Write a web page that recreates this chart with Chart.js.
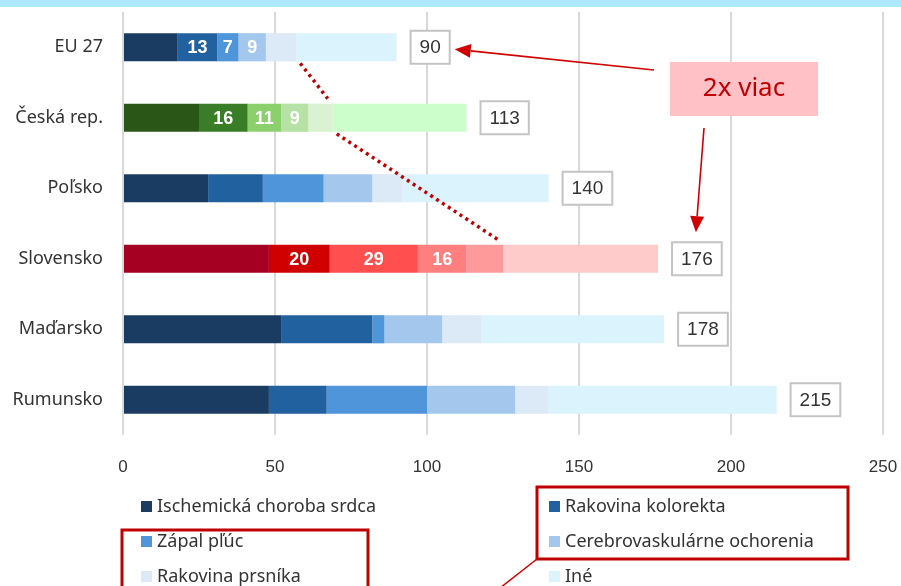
<!DOCTYPE html>
<html>
<head>
<meta charset="utf-8">
<style>
  html, body { margin: 0; padding: 0; background: #fff; }
  #wrap { width: 901px; height: 586px; position: relative; }
</style>
<script src="https://cdn.jsdelivr.net/npm/chart.js@4.4.1/dist/chart.umd.min.js"></script>
</head>
<body>
<div id="wrap"><canvas id="chart" width="901" height="586"></canvas></div>
<script>
// data
const categories = ['EU 27', 'Česká rep.', 'Poľsko', 'Slovensko', 'Maďarsko', 'Rumunsko'];
const seriesNames = ['Ischemická choroba srdca', 'Rakovina kolorekta', 'Zápal pľúc',
                     'Cerebrovaskulárne ochorenia', 'Rakovina prsníka', 'Iné'];
const ischemicka = [18, 25, 28, 48, 52, 48];
const kolorekta  = [13, 16, 18, 20, 30, 19];
const zapal      = [7, 11, 20, 29, 4, 33];
const cerebro    = [9, 9, 16, 16, 19, 29];
const prsnik     = [10, 8, 10, 12, 13, 11];
const ine        = [33, 44, 48, 51, 60, 75];
const xTicks = [0, 50, 100, 150, 200, 250];
// rows with numbers inside the bars, joined by the dotted line
const labeledRows = ['EU 27', 'Česká rep.', 'Slovensko'];
const labeledSeries = [1, 2, 3];
const calloutText = '2x viac';

// colours
const blues  = ['#1a3c63', '#2161a0', '#4f95da', '#a4c8ed', '#dce9f6', '#dbf3fd'];
const greens = ['#2a5718', '#3a7d27', '#8cd06e', '#b6e3a5', '#dbf2d2', '#ccfecc'];
const reds   = ['#a50021', '#d10000', '#ff4f4f', '#ff7f7f', '#ff9a9a', '#ffcaca'];
const rowPalette = { 'Česká rep.': greens, 'Slovensko': reds };
const darkRed = '#c00000';

const values = [ischemicka, kolorekta, zapal, cerebro, prsnik, ine];
const totals = categories.map((c, i) => values.reduce((s, v) => s + v[i], 0));

const datasets = seriesNames.map((name, k) => ({
  label: name,
  data: values[k],
  backgroundColor: categories.map(c => (rowPalette[c] || blues)[k]),
  legendColor: blues[k],
  borderWidth: 0,
  barPercentage: 0.4,
  categoryPercentage: 1
}));

function arrow(ctx, x1, y1, x2, y2) {
  const a = Math.atan2(y2 - y1, x2 - x1);
  const len = 16, hw = 7;
  const bx = x2 - len * Math.cos(a), by = y2 - len * Math.sin(a);
  ctx.strokeStyle = '#d00000';
  ctx.fillStyle = '#d00000';
  ctx.lineWidth = 1.6;
  ctx.beginPath();
  ctx.moveTo(x1, y1);
  ctx.lineTo(bx, by);
  ctx.stroke();
  ctx.beginPath();
  ctx.moveTo(x2, y2);
  ctx.lineTo(bx + hw * Math.sin(a), by - hw * Math.cos(a));
  ctx.lineTo(bx - hw * Math.sin(a), by + hw * Math.cos(a));
  ctx.closePath();
  ctx.fill();
}

const overlay = {
  id: 'overlay',
  beforeDraw(chart) {
    const ctx = chart.ctx;
    ctx.save();
    ctx.fillStyle = '#fff';
    ctx.fillRect(0, 0, chart.width, chart.height);
    ctx.fillStyle = '#aee8fd';
    ctx.fillRect(0, 0, chart.width, 7);
    ctx.restore();
  },
  afterDatasetsDraw(chart) {
    const ctx = chart.ctx;
    const xs = chart.scales.x;
    ctx.save();

    // numbers inside highlighted bars
    ctx.font = 'bold 18px "Liberation Sans", Arial, sans-serif';
    ctx.fillStyle = '#fff';
    ctx.textAlign = 'center';
    ctx.textBaseline = 'middle';
    labeledSeries.forEach(k => {
      const meta = chart.getDatasetMeta(k);
      labeledRows.forEach(r => {
        const i = categories.indexOf(r);
        const bar = meta.data[i];
        ctx.fillText(String(values[k][i]), (bar.x + bar.base) / 2, bar.y + 1);
      });
    });

    // dotted connector at the end of the 5th segment
    const m5 = chart.getDatasetMeta(4);
    ctx.strokeStyle = darkRed;
    ctx.lineWidth = 3.5;
    ctx.setLineDash([3, 4]);
    for (let j = 0; j < labeledRows.length - 1; j++) {
      const a = m5.data[categories.indexOf(labeledRows[j])];
      const b = m5.data[categories.indexOf(labeledRows[j + 1])];
      ctx.beginPath();
      ctx.moveTo(a.x + 4, a.y + a.height / 2 + 2);
      ctx.lineTo(b.x - 5, b.y - b.height / 2 - 5);
      ctx.stroke();
    }
    ctx.setLineDash([]);

    // total boxes
    ctx.font = '19px "Liberation Sans", Arial, sans-serif';
    const boxes = {};
    const last = chart.getDatasetMeta(5);
    totals.forEach((t, i) => {
      const txt = String(t);
      const w = ctx.measureText(txt).width + 18;
      const h = 33;
      const left = xs.getPixelForValue(t) + 14;
      const y = last.data[i].y;
      ctx.fillStyle = '#fff';
      ctx.fillRect(left, y - h / 2, w, h);
      ctx.strokeStyle = '#c4c4c4';
      ctx.lineWidth = 2;
      ctx.strokeRect(left, y - h / 2, w, h);
      ctx.fillStyle = '#333';
      ctx.textAlign = 'center';
      ctx.fillText(txt, left + w / 2, y + 1);
      boxes[categories[i]] = { left, right: left + w, top: y - h / 2, cx: left + w / 2, y };
    });

    // callout
    const bx = 670, by = 62, bw = 148, bh = 54;
    ctx.fillStyle = '#ffc1c6';
    ctx.fillRect(bx, by, bw, bh);
    ctx.fillStyle = darkRed;
    ctx.font = '26px "Noto Sans", sans-serif';
    ctx.textAlign = 'center';
    ctx.fillText(calloutText, bx + bw / 2, by + bh / 2);
    const eu = boxes[labeledRows[0]];
    const sk = boxes[labeledRows[2]];
    arrow(ctx, bx - 16, by + 8, eu.right + 5, eu.y + 2);
    arrow(ctx, bx + 34, by + bh + 12, sk.cx - 1, sk.top - 10);

    // legend, two columns
    ctx.font = '18px "Noto Sans", sans-serif';
    ctx.textAlign = 'left';
    const colX = [141, 549], rowY = [507, 542, 577];
    chart.data.datasets.forEach((ds, k) => {
      const x = colX[k % 2], y = rowY[Math.floor(k / 2)];
      ctx.fillStyle = ds.legendColor;
      ctx.fillRect(x, y - 6, 11, 11);
      ctx.fillStyle = '#333';
      ctx.fillText(ds.label, x + 16, y);
    });

    // red frames around legend items
    ctx.strokeStyle = darkRed;
    ctx.lineWidth = 3;
    ctx.strokeRect(537, 487, 311, 72);
    ctx.strokeRect(122, 530, 246, 70);
    ctx.lineWidth = 1.5;
    ctx.strokeStyle = '#d00000';
    ctx.beginPath();
    ctx.moveTo(537, 559);
    ctx.lineTo(500, 588);
    ctx.stroke();

    ctx.restore();
  }
};

new Chart(document.getElementById('chart'), {
  type: 'bar',
  data: { labels: categories, datasets },
  options: {
    indexAxis: 'y',
    responsive: false,
    animation: false,
    layout: { padding: { top: 12, right: 18, bottom: 0, left: 0 } },
    plugins: { legend: { display: false }, tooltip: { enabled: false } },
    scales: {
      x: {
        stacked: true,
        min: xTicks[0],
        max: xTicks[xTicks.length - 1],
        afterBuildTicks(scale) { scale.ticks = xTicks.map(v => ({ value: v })); },
        afterFit(scale) {
          scale.height = 151;
          scale.paddingLeft = 0;
          scale.paddingRight = 0;
        },
        grid: { color: '#d9d9d9', lineWidth: 2, drawTicks: false },
        border: { display: false },
        ticks: { padding: 22, color: '#333', font: { family: '"Liberation Sans", Arial, sans-serif', size: 17 } }
      },
      y: {
        stacked: true,
        afterFit(scale) {
          scale.width = 123;
          scale.paddingTop = 0;
          scale.paddingBottom = 0;
        },
        grid: { display: false, drawTicks: false },
        border: { display: false },
        ticks: { padding: 20, color: '#333', font: { family: '"Noto Sans", sans-serif', size: 18 } }
      }
    }
  },
  plugins: [overlay]
});
</script>
</body>
</html>
